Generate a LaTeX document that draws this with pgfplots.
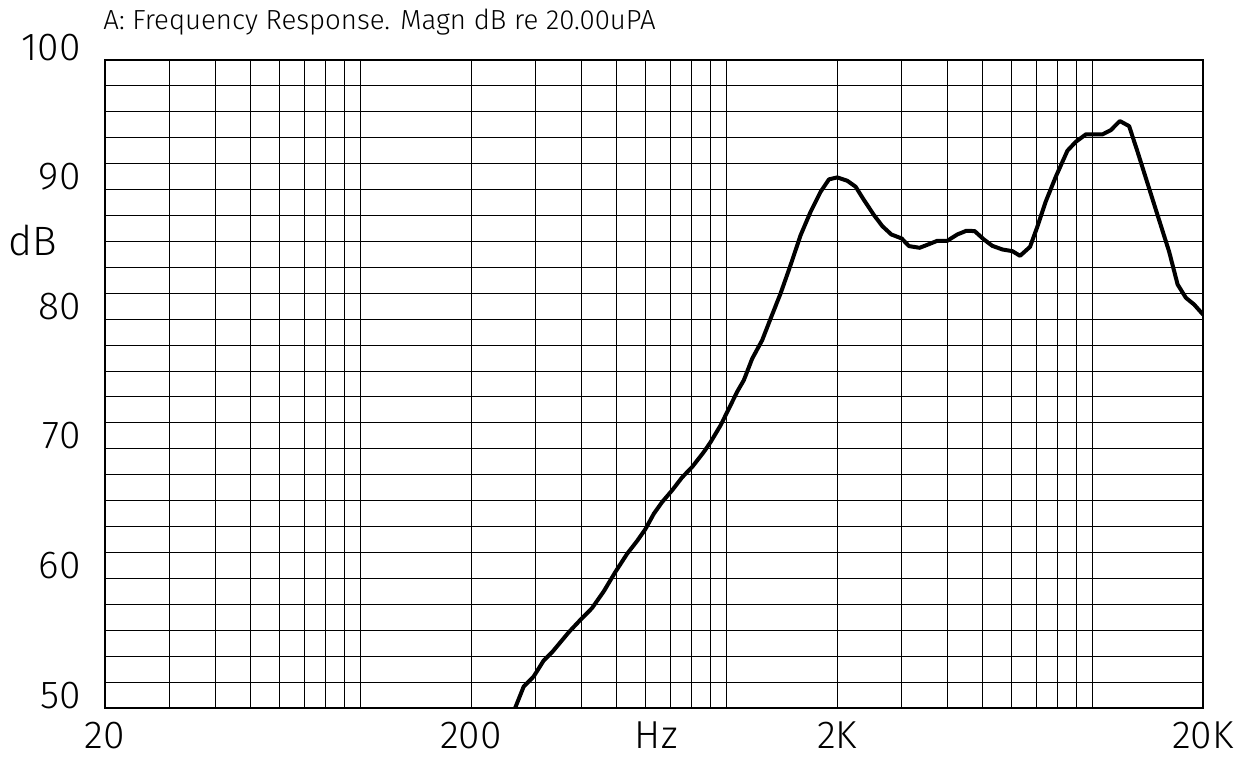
\documentclass[border=0pt]{standalone}
\usepackage{fontspec}
\setmainfont{Fira Sans Light}
\usepackage{pgfplots}
\pgfplotsset{compat=1.18}

\begin{document}
\begin{tikzpicture}
\begin{axis}[
    at={(0,0)}, anchor=south west,
    scale only axis,
    width=549pt, height=324pt,
    xmode=log,
    xmin=20, xmax=20000,
    ymin=50, ymax=100,
    xtick={20,200,2000,20000},
    xticklabels={20,200,2K,20K},
    minor xtick={30,40,50,60,70,80,90,100,300,400,500,600,700,800,900,1000,3000,4000,5000,6000,7000,8000,9000,10000},
    ytick={50,60,70,80,90,100},
    yticklabels={50,60,70,80,90,100},
    minor ytick={52,54,56,58,62,64,66,68,72,74,76,78,82,84,86,88,92,94,96,98},
    grid=both,
    major grid style={black, line width=0.5pt},
    minor grid style={black, line width=0.5pt},
    axis line style={black, line width=0.6pt},
    major tick length=0pt, minor tick length=0pt,
    /pgf/number format/assume math mode=true,
    ticklabel style={font=\fontsize{19.5}{20}\selectfont, inner sep=0pt},
    xticklabel style={anchor=base, yshift=-20pt},
    yticklabel style={anchor=base east, xshift=-12pt},
    clip mode=individual,
]
\addplot[black, line width=2pt, line join=round] coordinates {
    (264,50.0) (278.6,51.66) (296.6,52.43) (316,53.67) (333,54.3)
    (370,55.85) (398,56.8) (428,57.7) (461,59.0) (496,60.5)
    (534,61.9) (569,62.9) (599,63.8) (632,65.0) (666,65.9)
    (709,66.8) (755,67.8) (804,68.6) (865,69.75) (902,70.5)
    (961,71.8) (1013,73.1) (1067,74.4) (1113,75.3) (1173,76.96)
    (1249,78.38) (1317,80.05) (1402,81.98) (1493,84.17) (1591,86.49)
    (1694,88.29) (1804,89.83) (1901,90.79) (2003,90.94) (2134,90.68)
    (2249,90.22) (2370,89.19) (2524,88.03) (2660,87.18) (2814,86.54)
    (3004,86.23) (3145,85.64) (3364,85.51) (3567,85.79) (3758,86.05)
    (4002,86.05) (4264,86.54) (4511,86.82) (4754,86.80) (5040,86.15)
    (5314,85.66) (5660,85.38) (6029,85.25) (6325,84.89) (6735,85.58)
    (7053,87.13) (7432,89.06) (7920,90.99) (8522,93.0) (8985,93.69)
    (9568,94.26) (10626,94.26) (11198,94.59) (11850,95.29) (12564,94.90)
    (13248,92.92) (14250,90.09) (15178,87.64) (16166,85.20) (17044,82.68)
    (17961,81.65) (18921,81.13) (20000,80.36)
};
\node[anchor=base west, inner sep=0pt, xshift=-1pt, yshift=15.3pt,
      font=\fontsize{13.8}{14}\selectfont] at (rel axis cs:0,1)
    {A: Frequency Response. Magn dB re 20.00uPA};
\node[anchor=base, inner sep=0pt, yshift=-20pt,
      font=\fontsize{19.5}{20}\selectfont] at (rel axis cs:0.502,0) {Hz};
\node[anchor=base west, inner sep=0pt, xshift=-48.5pt,
      font=\fontsize{20.5}{21}\selectfont] at (rel axis cs:0,0.699) {dB};
\end{axis}
\path (-52.5pt,-24pt) rectangle (573pt,354pt);
\end{tikzpicture}
\end{document}
